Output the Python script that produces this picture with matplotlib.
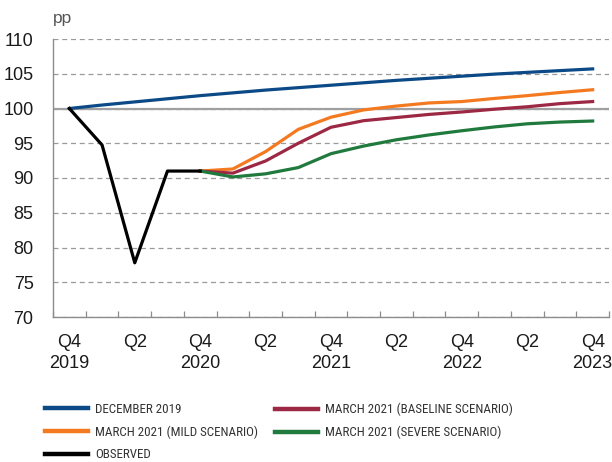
import matplotlib
matplotlib.use("Agg")
import matplotlib.pyplot as plt
from matplotlib.lines import Line2D
import numpy as np

# quarters Q4 2019 .. Q4 2023
quarters = ["Q4\n2019", "Q1", "Q2", "Q3", "Q4\n2020", "Q1", "Q2", "Q3", "Q4\n2021",
            "Q1", "Q2", "Q3", "Q4\n2022", "Q1", "Q2", "Q3", "Q4\n2023"]

december_2019 = [100, 100.5, 100.95, 101.4, 101.85, 102.25, 102.65, 103.0, 103.35,
                 103.7, 104.05, 104.35, 104.65, 104.95, 105.2, 105.45, 105.7]
observed = [100, 94.75, 77.8, 91.0, 91.0]
baseline = [91.0, 90.7, 92.45, 95.0, 97.3, 98.25, 98.7, 99.15, 99.5, 99.9, 100.25, 100.7, 101.0]
mild = [91.0, 91.3, 93.8, 97.0, 98.75, 99.8, 100.35, 100.8, 101.0, 101.45, 101.85, 102.3, 102.7]
severe = [91.0, 90.15, 90.6, 91.5, 93.5, 94.6, 95.5, 96.2, 96.8, 97.35, 97.8, 98.05, 98.2]

BLUE = "#0b4a87"
ORANGE = "#f47a22"
RED = "#9c2844"
GREEN = "#217a3d"
GRIS = "#8c8c8c"

plt.rcParams["font.family"] = ["Liberation Sans", "DejaVu Sans"]

fig = plt.figure(figsize=(6.12, 4.62), dpi=100)
ax = fig.add_axes([53 / 612, 1 - 317 / 462, 556 / 612, 278 / 462])

x_all = np.arange(len(quarters))
x_obs = x_all[:len(observed)]
x_scen = x_all[4:4 + len(baseline)]

ax.axhline(100, color="#a0a0a0", lw=1.6, zorder=2)
ax.plot(x_all, december_2019, color=BLUE, lw=2.3, zorder=4)
ax.plot(x_scen, mild, color=ORANGE, lw=2.3, zorder=4)
ax.plot(x_scen, baseline, color=RED, lw=2.3, zorder=4)
ax.plot(x_scen, severe, color=GREEN, lw=2.3, zorder=4)
ax.plot(x_obs, observed, color="black", lw=2.3, zorder=5)

ax.set_xlim(-0.5, len(quarters) - 0.5)
ax.set_ylim(70, 110)
ax.set_yticks(np.arange(70, 111, 5))
ax.yaxis.grid(True, color="#9a9a9a", linestyle=(0, (4, 3)), linewidth=0.9, zorder=1)
ax.set_axisbelow(True)

# labels every 2 quarters, tick marks at quarter boundaries
ax.set_xticks(x_all[::2])
ax.set_xticklabels(quarters[::2], linespacing=1.35)
ax.set_xticks(np.arange(-0.5, len(quarters)), minor=True)
ax.tick_params(axis="x", which="major", length=0, pad=12, labelsize=13, colors="#1a1a1a")
ax.tick_params(axis="x", which="minor", direction="in", length=4, color=GRIS, width=0.9)
ax.tick_params(axis="y", length=0, pad=14, labelsize=13, colors="#1a1a1a")

for s in ["top", "right"]:
    ax.spines[s].set_visible(False)
for s in ["left", "bottom"]:
    ax.spines[s].set_color(GRIS)
    ax.spines[s].set_linewidth(1.0)

fig.text(53 / 612, 1 - 18 / 462, "pp", fontsize=12.5, color="#555555", va="center", ha="left")

leg_font = dict(family=["Roboto Condensed", "Liberation Sans", "DejaVu Sans"], size=9.4)
col1 = [Line2D([], [], color=BLUE, lw=3.2), Line2D([], [], color=ORANGE, lw=3.2),
        Line2D([], [], color="black", lw=3.2)]
col1_labels = ["DECEMBER 2019", "MARCH 2021 (MILD SCENARIO)", "OBSERVED"]
col2 = [Line2D([], [], color=RED, lw=3.2), Line2D([], [], color=GREEN, lw=3.2)]
col2_labels = ["MARCH 2021 (BASELINE SCENARIO)", "MARCH 2021 (SEVERE SCENARIO)"]

for handles, labels, xpos in [(col1, col1_labels, 45), (col2, col2_labels, 275)]:
    fig.legend(handles, labels, loc="upper left",
               bbox_to_anchor=(xpos / 612, 1 - 403 / 462),
               frameon=False, prop=leg_font, handlelength=3.3,
               handletextpad=0.55, labelspacing=0.72, borderpad=0,
               borderaxespad=0, labelcolor="#333333")

fig.savefig("out.png", dpi=100)
